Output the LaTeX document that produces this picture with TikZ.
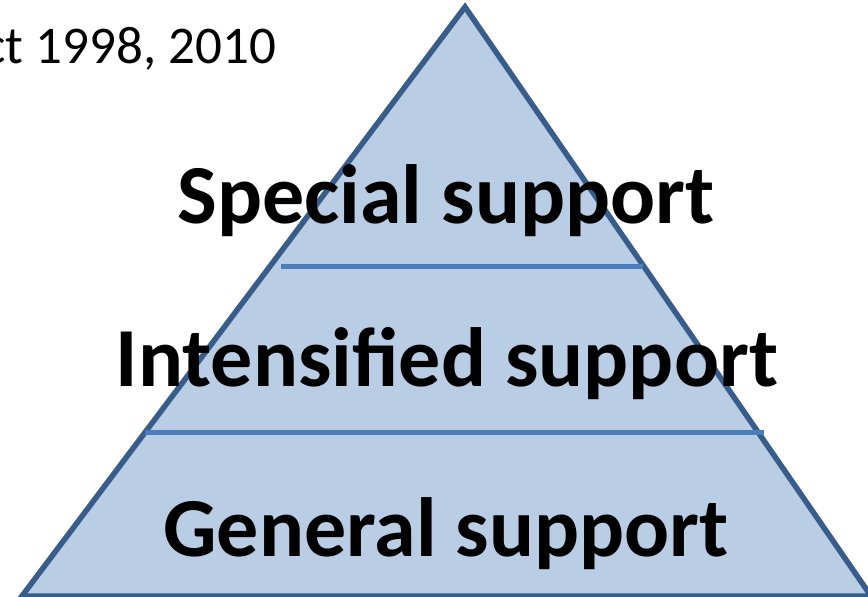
\documentclass[tikz,border=0pt]{standalone}
\usepackage{fontspec}
\setmainfont{Carlito}
\usetikzlibrary{positioning}

\definecolor{pyrfill}{HTML}{B9CDE5}
\definecolor{pyredge}{HTML}{385D8A}
\definecolor{tierline}{HTML}{4A7EBB}

\begin{document}
\begin{tikzpicture}[x=1pt, y=-1pt,
		tier/.style={font=\fontsize{84}{90}\selectfont\bfseries, inner sep=0pt},
		yearlabel/.style={font=\fontsize{53}{60}\selectfont, inner sep=0pt}]
		\useasboundingbox (0,0) rectangle (868,597);
		\begin{scope}
			\clip (0,0) rectangle (868,597);
			% pyramid body
			\draw[fill=pyrfill, draw=pyredge, line width=5.5pt, line join=miter] (465,7) -- (871,596) -- (22,596) -- cycle;
			% tier borders
			\draw[tierline, line width=5pt] (281,266) -- (643,266);
			\draw[tierline, line width=5pt] (145,432) -- (764,432);
		\end{scope}
		% labels
		\node[tier, anchor=base] (special) at (446,223) {Special support};
		\node[tier, anchor=base] (intens) at (447,386) {Intensified support};
		\node[tier, anchor=base] (general) at (446,556) {General support};
		\node[yearlabel, anchor=base east] (year) at (276,63) {ct 1998, 2010};
	\end{tikzpicture}
\end{document}
